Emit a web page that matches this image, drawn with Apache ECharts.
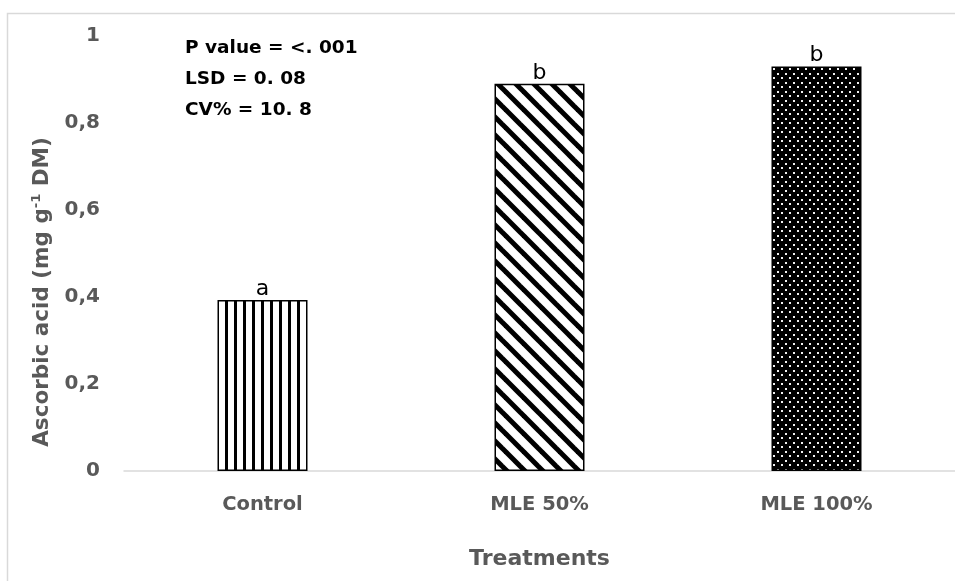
<!DOCTYPE html>
<html>
<head>
<meta charset="utf-8">
<script src="https://cdn.jsdelivr.net/npm/echarts@6/dist/echarts.min.js"></script>
<style>
html,body{margin:0;padding:0;background:#fff;}
#chart{width:955px;height:581px;}
</style>
</head>
<body>
<div id="chart"></div>
<script>
const categories = ['Control', 'MLE 50%', 'MLE 100%'];
const values = [0.393, 0.89, 0.93];
const letters = ['a', 'b', 'b'];
const statsLines = ['P value = <. 001', 'LSD = 0. 08', 'CV% = 10. 8'];
const xAxisTitle = 'Treatments';
const yMin = 0, yMax = 1, yStep = 0.2;

function makeCanvas(w, h) {
  const c = document.createElement('canvas');
  c.width = w; c.height = h;
  return c;
}
function verticalPattern() {
  const c = makeCanvas(9, 9), g = c.getContext('2d');
  g.fillStyle = '#fff'; g.fillRect(0, 0, 9, 9);
  g.fillStyle = '#000'; g.fillRect(0, 0, 3, 9);
  return c;
}
function diagonalPattern() {
  const s = 18, c = makeCanvas(s, s), g = c.getContext('2d');
  g.fillStyle = '#fff'; g.fillRect(0, 0, s, s);
  g.strokeStyle = '#000'; g.lineWidth = 5;
  for (const k of [-s, 0, s]) {
    g.beginPath(); g.moveTo(k - 3, -3); g.lineTo(k + s + 3, s + 3); g.stroke();
  }
  return c;
}
function dotPattern() {
  const c = makeCanvas(8, 9), g = c.getContext('2d');
  g.fillStyle = '#000'; g.fillRect(0, 0, 8, 9);
  g.fillStyle = '#f2f2f2';
  g.fillRect(1, 1, 2, 2);
  g.fillRect(5, 5, 2, 2);
  return c;
}
const patterns = [verticalPattern(), diagonalPattern(), dotPattern()];

const FONT = '"DejaVu Sans", sans-serif';
const chart = echarts.init(document.getElementById('chart'));
chart.setOption({
  animation: false,
  backgroundColor: '#fff',
  grid: { left: 124, right: -8, top: 36, bottom: 110, containLabel: false },
  xAxis: {
    type: 'category',
    data: categories,
    axisLine: { lineStyle: { color: '#d9d9d9', width: 1.5 } },
    axisTick: { show: false },
    axisLabel: { color: '#595959', fontWeight: 'bold', fontSize: 19.5, fontFamily: FONT, margin: 24 },
    name: xAxisTitle,
    nameLocation: 'middle',
    nameGap: 77,
    nameTextStyle: { color: '#595959', fontWeight: 'bold', fontSize: 22, fontFamily: FONT }
  },
  yAxis: {
    type: 'value',
    min: yMin, max: yMax, interval: yStep,
    axisLine: { show: false },
    axisTick: { show: false },
    splitLine: { show: false },
    axisLabel: {
      color: '#595959', fontWeight: 'bold', fontSize: 20, fontFamily: FONT, margin: 24,
      formatter: v => String(Math.round(v * 10) / 10).replace('.', ',')
    }
  },
  graphic: [
    { type: 'rect', silent: true, z: -1,
      shape: { x: 7.5, y: 13.5, width: 1200, height: 1200 },
      style: { fill: 'none', stroke: '#d9d9d9', lineWidth: 1.5 } },
    { type: 'text', x: 42, y: 292, rotation: Math.PI / 2,
      style: {
        text: '{t|Ascorbic acid (mg g}{s|-1}{t| DM)}',
        align: 'center', verticalAlign: 'middle',
        rich: {
          t: { fontSize: 21.5, fontWeight: 'bold', fill: '#595959', fontFamily: FONT },
          s: { fontSize: 13, fontWeight: 'bold', fill: '#595959', fontFamily: FONT, verticalAlign: 'top', padding: [0, 0, 10, 0] }
        }
      } },
    { type: 'text', x: 185, y: 33,
      style: {
        text: statsLines.join('\n'),
        fill: '#000', fontSize: 18.5, fontWeight: 'bold', fontFamily: FONT,
        lineHeight: 31, verticalAlign: 'top', align: 'left'
      } }
  ],
  series: [{
    type: 'bar',
    barWidth: 90,
    data: values.map((v, i) => ({
      value: v,
      itemStyle: {
        color: { image: patterns[i], repeat: 'repeat' },
        borderColor: '#000', borderWidth: 1.5
      }
    })),
    label: {
      show: true, position: 'top', distance: 0,
      formatter: p => letters[p.dataIndex],
      color: '#000', fontSize: 22, fontFamily: FONT
    }
  }]
});
</script>
</body>
</html>
